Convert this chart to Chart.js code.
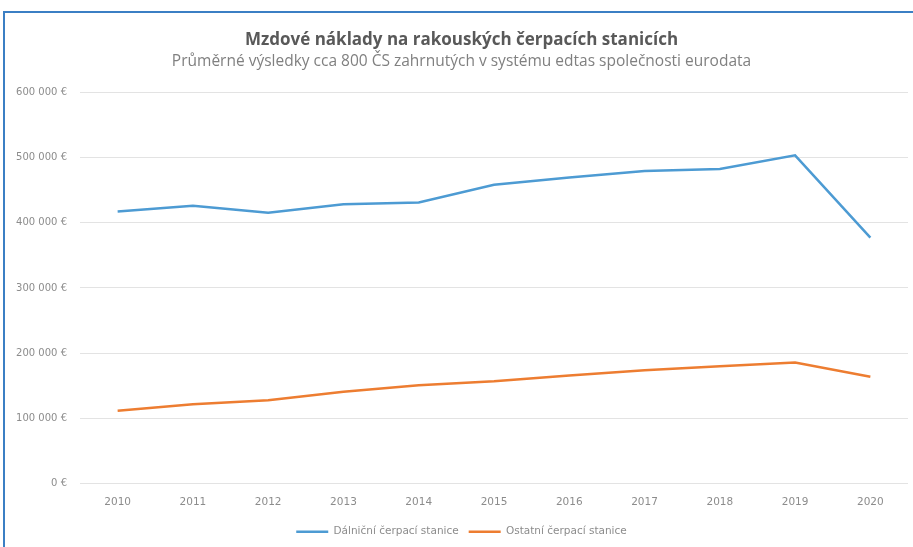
<!DOCTYPE html>
<html><head><meta charset="utf-8">
<script src="https://cdn.jsdelivr.net/npm/chart.js@4/dist/chart.umd.min.js"></script>
<style>
html,body{margin:0;padding:0;background:#fff;}
#frame{position:absolute;left:3px;top:11px;width:910px;height:536px;border-top:2px solid #3b7fc4;border-left:2px solid #3b7fc4;box-sizing:border-box;}
#wrap{position:absolute;left:0;top:0;width:913px;height:547px;}
</style></head>
<body>
<div id="frame"></div>
<div id="wrap"><canvas id="c"></canvas></div>
<script>
const years = ['2010','2011','2012','2013','2014','2015','2016','2017','2018','2019','2020'];
const dalnicni = [417000,426000,415000,428000,431000,458000,469000,479000,482000,503000,377000];
const ostatni = [112000,122000,128000,141000,151000,157000,166000,174000,180000,186000,164000];
const seriesNames = ['Dálniční čerpací stanice','Ostatní čerpací stanice'];
const titleText = 'Mzdové náklady na rakouských čerpacích stanicích';
const subtitleText = 'Průměrné výsledky cca 800 ČS zahrnutých v systému edtas společnosti eurodata';

const fmt = v => (v===0 ? '0' : Math.round(v/1000) + ' 000') + ' €';

new Chart(document.getElementById('c'), {
  type: 'line',
  data: {
    labels: years,
    datasets: [
      {label: seriesNames[0], data: dalnicni, borderColor:'#4d9bd3', backgroundColor:'#4d9bd3', borderWidth:2.5, pointRadius:0, tension:0},
      {label: seriesNames[1], data: ostatni, borderColor:'#ed7d31', backgroundColor:'#ed7d31', borderWidth:2.5, pointRadius:0, tension:0}
    ]
  },
  options: {
    responsive:true, maintainAspectRatio:false, animation:false,
    layout:{padding:{left:15,right:5,top:30,bottom:0}},
    plugins:{
      title:{display:true,text:titleText,color:'#595959',font:{family:'Open Sans',size:17,weight:'bold'},padding:{top:0,bottom:2}},
      subtitle:{display:true,text:subtitleText,color:'#808080',font:{family:'Open Sans',size:15.5},padding:{top:0,bottom:21}},
      legend:{position:'bottom',labels:{usePointStyle:true,pointStyle:'line',pointStyleWidth:32,boxHeight:10,color:'#8c8c8c',font:{family:'DejaVu Sans',size:10.5},padding:10}},
      tooltip:{enabled:false}
    },
    scales:{
      x:{offset:true,grid:{display:false,drawTicks:false},border:{display:false},
         ticks:{color:'#8c8c8c',font:{family:'DejaVu Sans',size:10.5},padding:12},
         afterFit: s => { s.height -= 4; }},
      y:{min:0,max:600000,grid:{color:'#e3e3e3',drawTicks:false},border:{display:false},
         ticks:{stepSize:100000,color:'#8c8c8c',font:{family:'DejaVu Sans',size:10},padding:13,callback:v=>fmt(v)},
         afterFit: s => { s.width = 65; }}
    }
  }
});
</script>
</body></html>
